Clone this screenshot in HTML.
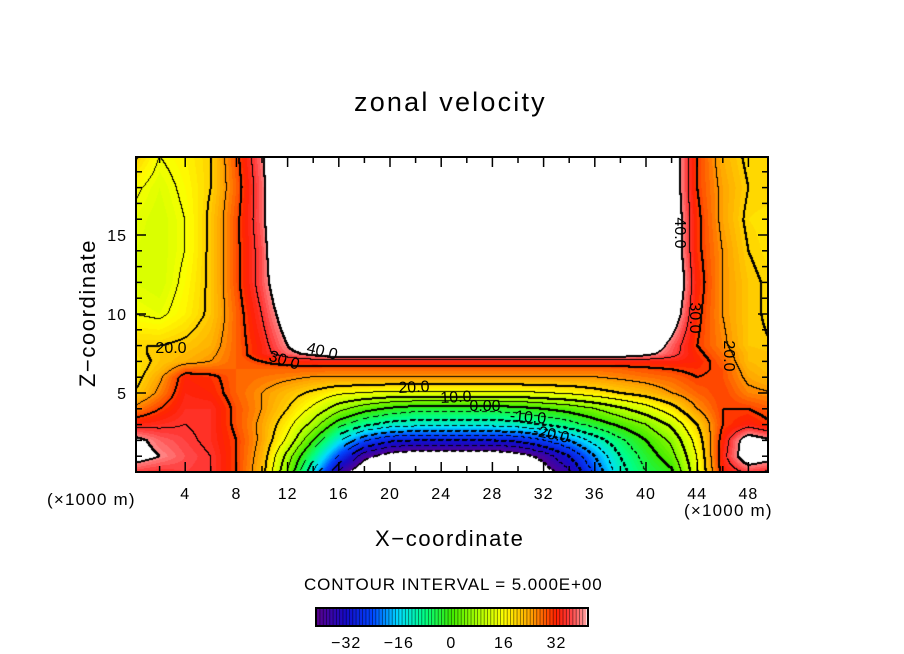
<!DOCTYPE html>
<html><head><meta charset="utf-8"><style>
body{margin:0;background:#fff;}
#root{position:relative;width:904px;height:654px;background:#fff;font-family:"Liberation Sans",sans-serif;overflow:hidden;}
.t{position:absolute;white-space:nowrap;color:#000;}
</style></head><body>
<div id="root">
<div class="t" style="left:354px;top:87px;font-size:27px;letter-spacing:2.2px;">zonal velocity</div>
<canvas id="cv" width="632" height="315" style="position:absolute;left:136px;top:157px;"></canvas>
<svg id="ov" width="904" height="654" style="position:absolute;left:0;top:0;"></svg>
<div class="t" style="left:375px;top:526px;font-size:22px;letter-spacing:1.6px;">X−coordinate</div>
<div class="t" style="left:8px;top:300px;font-size:22px;letter-spacing:1.6px;transform:rotate(-90deg);transform-origin:center;width:160px;text-align:center;">Z−coordinate</div>
<div class="t" style="left:47px;top:490px;font-size:17px;letter-spacing:1.2px;">(×1000 m)</div>
<div class="t" style="left:684px;top:501px;font-size:17px;letter-spacing:1.2px;">(×1000 m)</div>
<div class="t" style="left:304px;top:575px;font-size:17px;letter-spacing:0.9px;">CONTOUR INTERVAL = 5.000E+00</div>
</div>
<script>
const xNodes=[0,2,4,6,8,10,12,14,16,18,20,22,24,26,28,30,32,34,36,38,40,42,44,46,48,50];
const zNodes=[0,1,2,3,4,5,6,6.5,7,7.5,8,10,12,14,16,18,20];
const W14=[55,55,55,55,55,55,55,55,55,55,55,55,55,55];
const row0=[36,35,36,35,30,22,5,-15,-36,-46,-52,-52,-52,-52,-52,-52,-43,-36,-24,-12,-5,-1,14,32,36,34];
const row1=[43,40,37,35,30,23,8,-8,-25,-38,-43,-45,-45,-45,-45,-43,-38,-30,-20,-10,-3,3,15,33,45,42];
const row2=[42,38,36,34,30,24,14,0,-14,-24,-29,-30,-30,-30,-30,-29,-25,-20,-13,-6,0,6,17,32,44,40];
const row3=[33,34,35,34,29,24,17,8,-3,-9,-12,-13,-13,-13,-13,-12,-10,-7,-3,1,5,11,20,30,33,30];
const row4=[26,30,34,34,29,25,20,14,7,2,-1,-3,-3,-3,-3,-2,0,2,5,9,13,18,25,30,30,28];
const row5=[20,26,33,32,28,25,22,19,16,15,14,14,14,14,14,14,15,16,18,20,22,25,28,30,26,25];
const row6=[18,24,32,31,28,27,26,25,25,25,25,25,25,25,25,25,25,25,25,26,27,28,30,29,24,22];
const row65=[18,22,28,28,28,28,28,28,27.5,27.5,27.5,27.5,27.5,27.5,27.5,27.5,27.5,27.5,27.5,28,29,30,31,29,23,21];
const row7=[18,21,23,25,28,30,32,33,33,33,33,33,33,33,33,33,33,33,33,33,33,33,32,28,22,21];
const row75=[19,21,22,24,28,33,38,42,46,46,46,46,46,46,46,46,46,46,46,45,42,37,31,27,22,21];
const row8=[20,20,21,23,28,33,40,48,52,52,52,52,52,52,52,52,52,52,52,50,46,38,30,26,21,20];
const row10=[15,14,17,21,28,35,44,55,55,55,55,55,55,55,55,55,55,55,55,55,55,45,31,25,21,19];
const row12=[13,12,16,21,29,37,48].concat(W14,[48,32,25,21,19]);
const row14=[13,12,15,21,29,37,52].concat(W14,[46,31,25,20,18]);
const row16=[14,12,15,21,29,38,55].concat(W14,[46,31,24,19,18]);
const row18=[16,13,16,20,28,38,55].concat(W14,[45,30,24,20,20]);
const row20=[21,15,17,20,29,39,55].concat(W14,[45,30,23,19,19]);
const grid=[row0,row1,row2,row3,row4,row5,row6,row65,row7,row75,row8,row10,row12,row14,row16,row18,row20];
const xTicks=[4,8,12,16,20,24,28,32,36,40,44,48];
const zTicks=[5,10,15];
const cbTicks=[-32,-16,0,16,32];

const X0=136,Y0=157,PW=632,PH=315;
function xp(x){return 134+12.8*x;}
function zp(z){return 472-15.8*z;}
function valAt(x,z){
  let i=Math.floor(x/2); if(i<0)i=0; if(i>xNodes.length-2)i=xNodes.length-2;
  let tx=(x-xNodes[i])/(xNodes[i+1]-xNodes[i]);
  let j=0; while(j<zNodes.length-2 && z>zNodes[j+1]) j++;
  let tz=(z-zNodes[j])/(zNodes[j+1]-zNodes[j]);
  tx=Math.max(0,Math.min(1,tx)); tz=Math.max(0,Math.min(1,tz));
  const a=grid[j][i],b=grid[j][i+1],c=grid[j+1][i],d=grid[j+1][i+1];
  return (a*(1-tx)+b*tx)*(1-tz)+(c*(1-tx)+d*tx)*tz;
}
const stops=[[-41,[90,0,140]],[-32,[20,10,200]],[-24,[0,70,255]],[-16,[0,220,255]],[-8,[0,255,130]],[0,[60,235,0]],[8,[170,255,0]],[16,[255,255,0]],[24,[255,165,0]],[32,[255,30,0]],[36,[255,60,60]],[41,[255,160,160]]];
function cmap(v){
  v=Math.floor(v)+0.5;
  for(let k=0;k<stops.length-1;k++){
    if(v<=stops[k+1][0]){const t=Math.max(0,(v-stops[k][0])/(stops[k+1][0]-stops[k][0]));
      const A=stops[k][1],B=stops[k+1][1];return [A[0]+(B[0]-A[0])*t,A[1]+(B[1]-A[1])*t,A[2]+(B[2]-A[2])*t];}
  }
  return stops[stops.length-1][1];
}
const cv=document.getElementById('cv'),ctx=cv.getContext('2d');
const img=ctx.createImageData(PW,PH);const V=new Float32Array(PW*PH);
for(let py=0;py<PH;py++)for(let px=0;px<PW;px++){
  const x=(X0+px+0.5-134)/12.8, z=(472-(Y0+py+0.5))/15.8;
  V[py*PW+px]=valAt(x,z);
}
for(let p=0;p<PW*PH;p++){
  const v=V[p];let c=(v>40||v<-40)?[255,255,255]:cmap(v);
  img.data[p*4]=c[0];img.data[p*4+1]=c[1];img.data[p*4+2]=c[2];img.data[p*4+3]=255;
}
function setBlack(x,y){if(x<0||y<0||x>=PW||y>=PH)return;const p=(y*PW+x)*4;img.data[p]=0;img.data[p+1]=0;img.data[p+2]=0;}
for(let py=0;py<PH-1;py++)for(let px=0;px<PW-1;px++){
  const a=V[py*PW+px],r=V[py*PW+px+1],b=V[(py+1)*PW+px];
  for(let L=-40;L<=40;L+=5){
    if((a-L)*(r-L)<0||(a-L)*(b-L)<0){
      if(L<0 && ((px+py)%8)>=5) continue;
      setBlack(px,py);
      if(L%10===0){setBlack(px+1,py);setBlack(px,py+1);}
    }
  }
}
ctx.putImageData(img,0,0);

const NS='http://www.w3.org/2000/svg';const ov=document.getElementById('ov');
function mk(tag,attrs){const e=document.createElementNS(NS,tag);for(const k in attrs)e.setAttribute(k,attrs[k]);ov.appendChild(e);return e;}
let e;
e=mk('rect',{x:136,y:157,width:632,height:315,fill:'none',stroke:'#000','stroke-width':2});


for(let x=2;x<=48;x+=2){
  const L=(x%4===0)?10:6;
  e=mk('line',{x1:xp(x),x2:xp(x),y1:472,y2:472-L,stroke:'#000','stroke-width':1.5});
  
  
  e=mk('line',{x1:xp(x),x2:xp(x),y1:157,y2:157+L,stroke:'#000','stroke-width':1.5});
  
  
}
for(let z=1;z<=19;z++){
  const L=(z%5===0)?10:6;
  e=mk('line',{x1:136,x2:136+L,y1:zp(z),y2:zp(z),stroke:'#000','stroke-width':1.5});
  
  
  e=mk('line',{x1:768,x2:768-L,y1:zp(z),y2:zp(z),stroke:'#000','stroke-width':1.5});
  
  
}
xTicks.forEach(t=>{
  e=mk('text',{x:xp(t),y:499,'font-size':16,'letter-spacing':1,'text-anchor':'middle','font-family':'Liberation Sans, sans-serif'});
  e.textContent=t;
  
  
});
zTicks.forEach(t=>{
  e=mk('text',{x:127,y:zp(t)+6,'font-size':16,'letter-spacing':1,'text-anchor':'end','font-family':'Liberation Sans, sans-serif'});
  e.textContent=t;
  
  
});
const labels=[["20.0",171,349,0],["30.0",284,361,18],["40.0",322,352,14],["20.0",414,388,-3],["10.0",456,398,-3],["0.00",485,407,0],["-10.0",528,418,5],["-20.0",551,435,12],["40.0",679,233,90],["30.0",694,318,90],["20.0",728,356,90]];
labels.forEach(l=>{
  e=mk('text',{x:l[1],y:l[2],'font-size':16,'text-anchor':'middle','dominant-baseline':'middle','font-family':'Liberation Sans, sans-serif',transform:'rotate('+l[3]+' '+l[1]+' '+l[2]+')'});
  e.textContent=l[0];
  
  
});
const cbL=316,cbR=588,cbMin=-41.2,cbMax=41.6;
function cbx(v){return cbL+(v-cbMin)/(cbMax-cbMin)*(cbR-cbL);}
for(let v=-41;v<41;v++){
  const c=cmap(v+0.1);
  e=mk('rect',{x:cbx(v),y:608,width:cbx(v+1)-cbx(v)+0.3,height:18,fill:'rgb('+c.map(Math.round).join(',')+')'});
  
  
  e=mk('line',{x1:cbx(v),x2:cbx(v),y1:608,y2:626,stroke:'rgba(0,0,0,0.55)','stroke-width':0.8});
  
  
}
e=mk('rect',{x:cbL,y:608,width:cbR-cbL,height:18,fill:'none',stroke:'#000','stroke-width':2});


cbTicks.forEach(t=>{
  e=mk('text',{x:cbx(t),y:648,'font-size':16,'letter-spacing':1,'text-anchor':'middle','font-family':'Liberation Sans, sans-serif'});
  e.textContent=(t<0?'−'+(-t):String(t));
  
  
});
</script>
</body></html>
